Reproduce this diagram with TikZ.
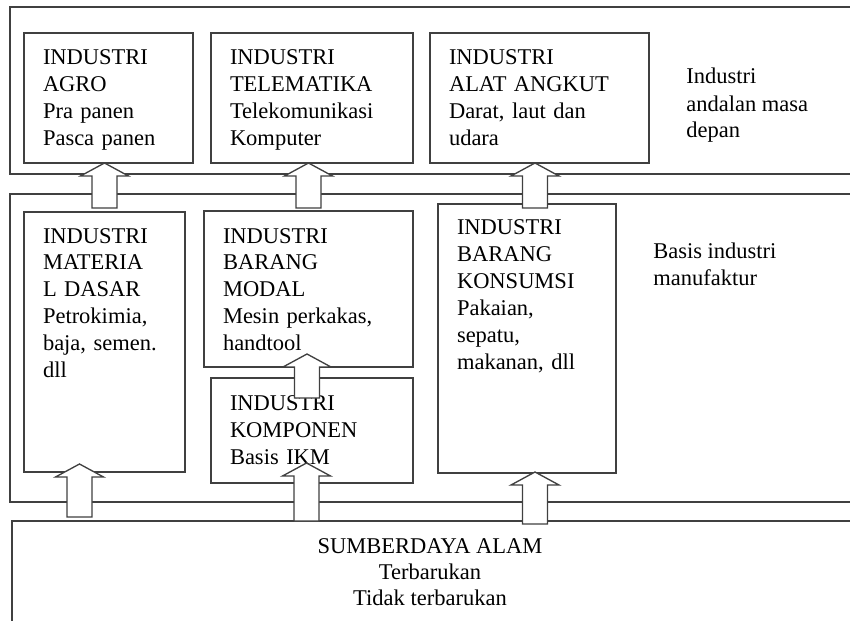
\documentclass[tikz,border=0pt]{standalone}
\usepackage{fontspec}
\setmainfont{Liberation Serif}
\usetikzlibrary{calc}

\newcommand{\bigarrow}[2]{%
  \draw[blk] let \p1=(#1), \p2=(#2) in
    (\x2-7.5pt,\y1) -- (\x2-7.5pt,\y2-7.8pt) -- (\x2-14.4pt,\y2-7.8pt) -- (\p2)
    -- (\x2+14.4pt,\y2-7.8pt) -- (\x2+7.5pt,\y2-7.8pt) -- (\x2+7.5pt,\y1) -- cycle;}

\begin{document}
\begin{tikzpicture}[x=0.6pt, y=-0.6pt, font=\fontsize{13.5}{16.2}\selectfont,
    frame/.style={draw=black!75, line width=0.8pt},
    box/.style={draw=black!75, line width=0.8pt, anchor=base west, align=left,
      inner xsep=11.4pt, inner ysep=0pt, outer sep=0pt, text height=19.2pt},
    lbl/.style={anchor=base west, align=left, inner sep=0pt},
    blk/.style={draw=black!75, line width=0.8pt, fill=white}]
        \useasboundingbox (0,0) rectangle (850,621);
        \clip (0,0) rectangle (850,621);
        \draw[frame] (10,7) rectangle (870,174);
        \draw[frame] (10,194) rectangle (870,502);
        \draw[frame] (12,521) rectangle (870,640);
        \coordinate (sdatop) at (0,521);

        \node[box, text width=78.6pt, text depth=58.8pt] (agro) at (24,65) {INDUSTRI\\AGRO\\Pra panen\\Pasca panen};
        \node[box, text width=98.4pt, text depth=58.8pt] (tele) at (211,65) {INDUSTRI\\TELEMATIKA\\Telekomunikasi\\Komputer};
        \node[box, text width=108.6pt, text depth=58.8pt] (alat) at (430,65) {INDUSTRI\\ALAT ANGKUT\\Darat, laut dan\\udara};
        \node[box, text width=73.8pt, text height=18.6pt, text depth=137.4pt] (mat) at (24,243) {INDUSTRI\\MATERIA\\L DASAR\\Petrokimia,\\baja, semen.\\dll};
        \node[box, text width=102.6pt, text depth=74.4pt] (modal) at (204,243) {INDUSTRI\\BARANG\\MODAL\\Mesin perkakas,\\handtool};
        \node[box, text width=98.4pt, text depth=43.8pt] (komp) at (211,410) {INDUSTRI\\KOMPONEN\\Basis IKM};
        \node[box, text width=84pt, text height=18.6pt, text depth=142.8pt] (kons) at (438,235) {INDUSTRI\\BARANG\\KONSUMSI\\Pakaian,\\sepatu,\\makanan, dll};

        \node[lbl] (andalan) at (686,138) {Industri\\andalan masa\\depan};
        \node[lbl] (basis) at (653,285) {Basis industri\\manufaktur};
        \node[lbl, anchor=base, align=center, font=\fontsize{13.5}{15.6}\selectfont] (sda) at (430,605) {SUMBERDAYA ALAM\\Terbarukan\\Tidak terbarukan};

        \bigarrow{$(mat.north)+(0,-4)$}{agro.south -| mat.north}
        \bigarrow{$(modal.north)+(0,-3)$}{tele.south -| modal.north}
        \bigarrow{$(kons.north)+(0,4)$}{$(alat.south)+(-4.5,0)$}
        \bigarrow{$(komp.north)+(0,20)$}{$(modal.south)+(-1.5,-13)$}
        \bigarrow{$(sdatop)+(0,-4)$}{$(mat.south)+(-25,-8)$}
        \bigarrow{sdatop}{$(komp.south)+(-5.5,-20)$}
        \bigarrow{$(sdatop)+(0,3)$}{$(kons.south)+(8,-1)$}
    \end{tikzpicture}
\end{document}
